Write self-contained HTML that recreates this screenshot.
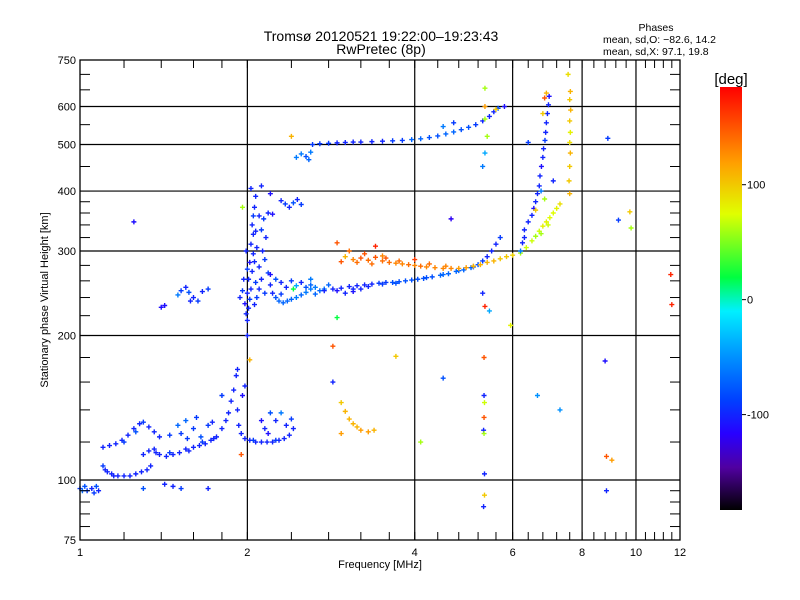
<!DOCTYPE html>
<html><head><meta charset="utf-8"><style>
html,body{margin:0;padding:0;background:#fff;}
svg{display:block;font-family:"Liberation Sans",sans-serif;}
</style></head><body>
<svg id="chart" width="800" height="600" viewBox="0 0 800 600">
<defs>
<linearGradient id="cb" x1="0" y1="1" x2="0" y2="0">
<stop offset="0" stop-color="#000000"/>
<stop offset="0.1" stop-color="#5000a0"/>
<stop offset="0.18" stop-color="#2800ff"/>
<stop offset="0.26" stop-color="#0040ff"/>
<stop offset="0.38" stop-color="#00a0ff"/>
<stop offset="0.47" stop-color="#00f0ff"/>
<stop offset="0.55" stop-color="#00ff40"/>
<stop offset="0.7" stop-color="#e0ff00"/>
<stop offset="0.82" stop-color="#ffa000"/>
<stop offset="1" stop-color="#ff0000"/>
</linearGradient>
</defs>
<g id="grid"></g>
<g id="marks"></g>
<rect x="80" y="60" width="600" height="480" fill="none" stroke="#000" stroke-width="1.3"/>
<g id="ticks"></g>
<text x="381" y="41" text-anchor="middle" font-size="14">Tromsø 20120521 19:22:00–19:23:43</text>
<text x="381" y="54" text-anchor="middle" font-size="14">RwPretec (8p)</text>
<text x="656" y="31" text-anchor="middle" font-size="10.5">Phases</text>
<text x="603" y="43" font-size="10.5">mean, sd,O: −82.6, 14.2</text>
<text x="603" y="55" font-size="10.5">mean, sd,X:  97.1, 19.8</text>
<text x="48" y="300" text-anchor="middle" font-size="11" transform="rotate(-90 48 300)">Stationary phase Virtual Height [km]</text>
<text x="380" y="568" text-anchor="middle" font-size="11">Frequency [MHz]</text>
<rect x="720" y="87" width="22" height="423" fill="url(#cb)"/>
<text x="731" y="84" text-anchor="middle" font-size="15">[deg]</text>
<g id="cbticks"></g>
</svg>
<script>
const xMin = 1, xMax = 12, yMin = 75, yMax = 750;
const xGrid = [2, 4, 6, 8, 10];
const xTickLabels = ["1", "2", "4", "6", "8", "10", "12"];
const xTickValues = [1, 2, 4, 6, 8, 10, 12];
const xMinor = [1.2,1.4,1.6,1.8,2.4,2.8,3.2,3.6,4.4,4.8,5.2,5.6,6.4,6.8,7.2,7.6,8.4,8.8,9.2,9.6,10.4,10.8,11.2,11.6];
const yGrid = [100, 200, 300, 400, 500, 600];
const yTickValues = [75, 100, 200, 300, 400, 500, 600, 750];
const yTickLabels = ["75", "100", "200", "300", "400", "500", "600", "750"];
const yMinor = [80,85,90,95,120,140,160,180,220,240,260,280,320,340,360,380,450,550,650,700];
const cbValues = [100, 0, -100];
const cbMin = -183, cbMax = 185;

// echo points: [frequency MHz, height km, phase deg]
const freqs = [];
const heights = [];
const phases = [];
const pts = [
[1.0,96,-90],[1.02,97,-80],[1.03,95,-90],[1.05,96,-100],[1.06,94,-90],[1.08,95,-100],[1.01,95,-70],[1.07,97,-80],[1.1,107,-90],[1.11,105,-100],[1.12,104,-100],[1.14,103,-100],[1.15,102,-100],[1.17,102,-100],[1.2,102,-100],[1.23,102,-100],[1.26,103,-100],[1.29,104,-100],[1.32,105,-100],[1.34,107,-100],[1.42,98,-100],[1.47,97,-100],[1.52,96,-90],[1.7,96,-100],[1.3,96,-80],
[1.1,117,-100],[1.13,118,-100],[1.16,119,-100],[1.19,121,-100],[1.22,124,-100],[1.25,128,-100],[1.28,131,-100],[1.3,132,-90],[1.33,129,-100],[1.36,126,-100],[1.39,123,-100],[1.2,120,-90],[1.26,126,-80],
[1.3,113,-100],[1.33,115,-100],[1.36,116,-100],[1.39,113,-100],[1.43,112,-100],[1.47,113,-100],[1.51,114,-100],[1.55,116,-100],[1.6,117,-100],[1.64,118,-100],[1.68,119,-100],[1.72,121,-100],[1.76,123,-100],[1.8,128,-100],[1.83,133,-100],[1.85,138,-100],[1.87,146,-100],[1.89,154,-100],[1.91,165,-100],[1.92,170,-100],[1.37,114,-100],[1.45,114,-90],[1.57,115,-100],[1.66,120,-90],[1.74,122,-100],
[1.52,125,-90],[1.56,122,-90],[1.6,128,-90],[1.65,123,-80],[1.5,130,-70],[1.45,124,-90],[1.55,133,-70],[1.62,135,-90],[1.7,130,-90],[1.73,132,-100],
[1.92,140,-100],[1.93,130,-100],[1.95,125,-100],[1.98,122,-100],[2.02,121,-100],[2.07,120,-100],[2.12,120,-100],[2.17,120,-100],[2.22,120,-100],[2.28,121,-100],[2.33,122,-100],[2.38,124,-100],[2.42,128,-100],[2.05,121,-90],[2.25,121,-90],
[2.12,133,-110],[2.15,128,-100],[2.2,138,-80],[2.25,133,-100],[2.3,138,-60],[2.35,130,-100],[2.4,134,-90],[2.18,125,-110],[1.96,150,-110],[1.98,157,-100],[2.0,200,-100],[2.02,178,110],[1.95,113,150],[1.8,150,-90],
[1.4,229,-110],[1.42,231,-110],[1.5,243,-60],[1.52,248,-90],[1.55,252,-100],[1.57,246,-80],[1.6,240,-100],[1.63,236,-90],[1.66,247,-100],[1.7,250,-90],[1.58,236,-100],[1.25,345,-110],
[1.94,240,-100],[1.96,248,-90],[1.98,233,-110],[1.97,262,-100],[2.0,215,-100],[2.01,228,-100],[2.02,238,-90],[2.03,250,-100],[2.01,262,-100],[2.04,272,-100],[2.02,284,-110],[2.05,296,-100],[2.03,310,-100],[2.05,325,-100],[2.04,340,-100],[2.05,355,-90],[2.06,370,-100],[2.07,390,-100],[2.03,405,-100],[1.96,370,60],
[1.99,222,-100],[2.0,245,-100],[2.06,232,-100],[2.07,258,-90],[2.06,285,-100],[2.08,305,-100],[2.07,330,-100],[2.0,275,-90],[1.99,300,-100],
[2.08,240,-90],[2.1,250,-100],[2.12,262,-100],[2.1,278,-100],[2.15,288,-90],[2.13,300,-100],[2.18,270,-90],[2.2,255,-100],[2.22,245,-100],[2.25,240,-80],[2.28,236,-70],[2.32,234,-70],[2.36,236,-70],[2.4,238,-70],[2.45,240,-60],[2.5,243,-70],[2.55,246,-60],[2.6,250,-60],[2.65,252,-60],[2.7,248,-70],[2.75,250,-60],
[2.2,268,-110],[2.25,262,-80],[2.3,258,-100],[2.35,252,-100],[2.4,260,-90],[2.45,254,-40],[2.5,258,-100],[2.55,252,-80],[2.6,262,-60],[2.65,244,-70],[2.15,245,-90],[2.3,244,-90],[2.42,250,20],[2.6,255,-70],[2.8,255,-70],
[2.1,355,-100],[2.14,350,-90],[2.18,360,-100],[2.22,358,-110],[2.3,382,-100],[2.34,376,-90],[2.38,370,-100],[2.42,378,-80],[2.46,384,-100],[2.5,375,-90],[2.12,410,-100],[2.2,395,-110],[2.16,320,-100],[2.12,332,-90],
[2.75,248,-100],[2.85,250,-100],[2.95,251,-100],[3.05,253,-100],[3.15,254,-100],[3.25,255,-100],[3.35,256,-100],[3.45,257,-90],[3.55,258,-90],[3.65,258,-80],[3.75,259,-80],[3.85,260,-80],[3.95,261,-80],[4.05,262,-80],[4.15,263,-80],[4.3,265,-80],[4.45,267,-70],[4.6,269,-70],[4.75,272,-70],[4.9,274,-70],[5.05,277,-70],[5.2,281,-80],[5.3,286,-90],[5.4,292,-100],[5.5,300,-100],[5.6,310,-100],[5.7,320,-90],[3.0,245,-100],[3.1,247,-110],[3.2,250,-100],
[2.9,248,-110],[3.1,250,-100],[3.3,253,-100],[3.5,256,-90],[3.7,257,-80],[4.2,264,-80],[4.5,268,-70],[4.8,273,-70],[5.1,278,-80],
[2.95,285,150],[3.0,292,110],[3.05,300,140],[3.1,288,130],[3.15,284,140],[3.2,290,150],[3.3,287,140],[3.4,291,150],[3.5,286,140],[3.6,284,140],[3.7,283,130],[3.8,282,130],[3.9,281,140],[4.0,280,130],[4.1,279,140],[4.2,278,130],[4.35,277,130],[4.5,276,130],[4.65,276,130],[4.8,276,120],[4.95,277,120],[5.1,279,110],[5.25,281,110],[5.4,284,110],[5.55,286,110],[5.7,289,100],[5.85,292,100],[6.0,294,95],[2.9,312,150],[3.25,296,150],[3.5,293,130],[4.0,288,160],
[3.35,282,140],[3.55,290,150],[3.75,286,140],[4.25,282,140],[4.55,279,130],
[6.2,297,60],[6.35,305,70],[6.5,315,70],[6.6,322,60],[6.7,330,70],[6.8,338,80],[6.9,345,80],[7.0,352,75],[7.1,360,75],[7.2,368,80],[7.3,376,90],[6.75,326,60],[6.95,340,70],
[6.3,332,-100],[6.4,345,-100],[6.5,356,-100],[6.55,368,-110],[6.6,380,-100],[6.65,395,-100],[6.7,410,-100],[6.72,430,-100],[6.76,450,-110],[6.8,470,-100],[6.82,490,-100],[6.86,510,-90],[6.88,530,-100],[6.9,555,-100],[6.93,580,-100],[6.96,605,-100],[6.98,630,-110],[6.75,400,-60],[6.85,385,60],[6.6,365,100],
[7.6,395,110],[7.58,420,100],[7.6,450,100],[7.62,480,110],[7.6,505,90],[7.62,530,80],[7.6,560,100],[7.63,590,110],[7.6,620,100],[7.62,645,110],
[2.45,470,-60],[2.5,478,-60],[2.55,472,-80],[2.6,482,-60],[2.58,465,-70],[2.4,520,110],[2.62,500,-90],[2.7,502,-90],[2.8,503,-90],[2.9,504,-100],[3.0,505,-100],[3.1,506,-100],[3.2,506,-100],[3.35,507,-100],[3.5,508,-100],[3.65,509,-90],[3.8,510,-90],[3.95,512,-70],[4.1,514,-70],[4.25,517,-80],[4.4,521,-80],[4.55,526,-70],[4.7,531,-70],[4.85,537,-80],[5.0,543,-80],[5.15,550,-90],[5.3,560,-100],[5.45,572,-100],[5.55,585,-100],[5.65,595,-80],[4.5,545,-60],[4.7,555,-90],
[5.35,655,60],[5.35,600,120],[5.35,565,60],[5.4,520,60],[5.35,480,-40],[5.3,450,-60],[5.6,592,100],[5.45,225,-40],[5.35,230,170],
[5.33,180,150],[5.33,150,-100],[5.34,145,70],[5.33,135,150],[5.32,127,-100],[5.33,125,60],[5.34,103,-100],[5.34,93,100],[5.32,88,-100],[5.3,245,-100],
[3.7,181,100],[4.1,120,60],[4.5,163,-80],[4.65,350,-120],[5.95,210,80],[6.65,150,-50],[7.3,140,-50],[2.85,190,150],[2.9,218,20],[2.85,160,-100],[2.95,125,120],[3.4,307,170],
[2.95,145,100],[3.0,139,110],[3.05,134,110],[3.1,131,110],[3.15,129,110],[3.2,127,120],[3.3,126,120],[3.38,127,110],
[8.8,177,-110],[8.85,112,150],[9.05,110,120],[8.85,95,-100],[9.3,348,-90],[9.75,362,100],[9.8,335,60],[11.55,268,170],[11.6,232,170],[8.9,515,-90],
[6.2,300,-60],[6.25,312,-100],[6.3,320,-100],[6.8,580,100],[6.85,625,150],[6.9,640,110],[7.55,700,90],[7.1,420,-100],[6.4,505,-90],[5.8,600,-110]
];
pts.forEach(p => { freqs.push(p[0]); heights.push(p[1]); phases.push(p[2]); });

const L = 80, R = 680, T = 60, B = 540;
function xs(f){ return L + (R-L)*Math.log(f/xMin)/Math.log(xMax/xMin); }
function ys(h){ return B - (B-T)*Math.log(h/yMin)/Math.log(yMax/yMin); }
function cbY(v){ return 510 - 423*(v-cbMin)/(cbMax-cbMin); }
const stops = [[0,[0,0,0]],[0.1,[80,0,160]],[0.18,[40,0,255]],[0.26,[0,64,255]],[0.38,[0,160,255]],[0.47,[0,240,255]],[0.55,[0,255,64]],[0.7,[224,255,0]],[0.82,[255,160,0]],[1,[255,0,0]]];
function color(v){
  let t = Math.max(0, Math.min(1, (v-cbMin)/(cbMax-cbMin)));
  for (let i=1;i<stops.length;i++){
    if (t <= stops[i][0]){
      const a = stops[i-1], b = stops[i], u = (t-a[0])/(b[0]-a[0]);
      const c = a[1].map((x,k)=>Math.round(x+(b[1][k]-x)*u));
      return 'rgb('+c.join(',')+')';
    }
  }
  return 'rgb(255,0,0)';
}
const NS = 'http://www.w3.org/2000/svg';
function mk(tag, attrs, parent){ const e = document.createElementNS(NS, tag); for (const k in attrs) e.setAttribute(k, attrs[k]); parent.appendChild(e); return e; }
const grid = document.getElementById('grid'), ticks = document.getElementById('ticks'), marks = document.getElementById('marks'), cbt = document.getElementById('cbticks');
xGrid.forEach(f => {
  const l = mk('line', {x1: xs(f), x2: xs(f), y1: T, y2: B, stroke: '#000', 'stroke-width': 1.2}, grid);
  
  
});
yGrid.forEach(h => {
  const l = mk('line', {x1: L, x2: R, y1: ys(h), y2: ys(h), stroke: '#000', 'stroke-width': 1.2}, grid);
  
  
});
xMinor.concat(xTickValues).forEach(f => {
  const x = xs(f);
  mk('line', {x1: x, x2: x, y1: B, y2: B-8, stroke: '#000'}, ticks);
  mk('line', {x1: x, x2: x, y1: T, y2: T+8, stroke: '#000'}, ticks);
});
yMinor.concat(yTickValues).forEach(h => {
  const y = ys(h);
  mk('line', {x1: L, x2: L+10, y1: y, y2: y, stroke: '#000'}, ticks);
  mk('line', {x1: R, x2: R-10, y1: y, y2: y, stroke: '#000'}, ticks);
});
xTickValues.forEach((f, i) => {
  const t = mk('text', {x: xs(f), y: 556, 'text-anchor': 'middle', 'font-size': 11}, ticks);
  t.textContent = xTickLabels[i];
  
  
});
yTickValues.forEach((h, i) => {
  const t = mk('text', {x: 76, y: ys(h)+4, 'text-anchor': 'end', 'font-size': 11}, ticks);
  t.textContent = yTickLabels[i];
  
  
});
cbValues.forEach(v => {
  const y = cbY(v);
  mk('line', {x1: 742, x2: 746, y1: y, y2: y, stroke: '#000'}, cbt);
  const t = mk('text', {x: 747, y: y+4, 'font-size': 11}, cbt);
  t.textContent = String(v);
  
  
});
for (let i = 0; i < freqs.length; i++){
  const x = xs(freqs[i]), y = ys(heights[i]);
  const p = mk('path', {d: 'M'+(x-2.5)+' '+y+'H'+(x+2.5)+'M'+x+' '+(y-2.5)+'V'+(y+2.5), stroke: color(phases[i]), 'stroke-width': 1.4, fill: 'none'}, marks);
  
  
}
</script>
</body></html>
